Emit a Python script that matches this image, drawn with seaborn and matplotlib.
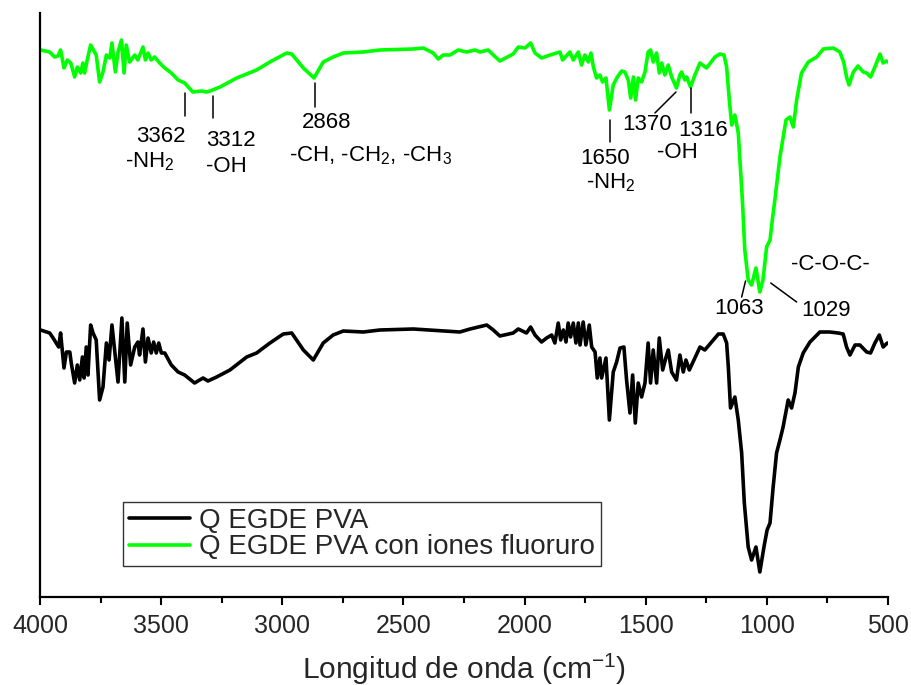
import matplotlib
matplotlib.use("Agg")
import matplotlib.pyplot as plt
from matplotlib.lines import Line2D
from matplotlib.ticker import MultipleLocator
import pandas as pd
import seaborn as sns

# FTIR spectra (wavenumber in cm-1, transmittance in arbitrary units, stacked)
wn_base = [3998, 3960, 3946, 3933, 3923, 3915, 3901, 3891, 3877, 3871, 3857, 3846, 3836, 3825,
           3818, 3809, 3802, 3791, 3781, 3768, 3754, 3740, 3726, 3715, 3703, 3678, 3662, 3650,
           3640, 3626, 3609, 3596, 3589, 3575, 3565, 3554, 3541, 3531, 3520, 3510, 3499, 3485,
           3458, 3430, 3403, 3362, 3327, 3307, 3271, 3216, 3147, 3106, 3051, 2996, 2961, 2913,
           2872, 2831, 2790, 2748, 2666, 2597, 2459, 2267, 2225, 2191, 2156, 2129, 2102, 2047,
           2026, 1992, 1975, 1957, 1930, 1909, 1888, 1875, 1861, 1851, 1840, 1829, 1820, 1810,
           1799, 1788, 1778, 1771, 1758, 1747, 1733, 1723, 1709, 1700, 1689, 1682, 1664, 1650,
           1634, 1620, 1606, 1590, 1579, 1565, 1554, 1543, 1531, 1517, 1503, 1490, 1480, 1469,
           1455, 1444, 1430, 1417, 1407, 1393, 1373, 1359, 1345, 1334, 1320, 1297, 1276, 1256,
           1221, 1200, 1180, 1166, 1159, 1150, 1132, 1118, 1104, 1093, 1077, 1063, 1045, 1029,
           1012, 999, 987, 974, 960, 946, 933, 912, 898, 884, 870, 850, 822, 781, 740, 706,
           685, 671, 657, 636, 616, 588, 572, 554, 536, 520, 503]
t_base = [270, 267, 262, 257, 253, 267, 232, 248, 248, 237, 217, 235, 220, 243,
          222, 253, 225, 275, 267, 260, 200, 213, 257, 240, 275, 218, 282, 218,
          277, 235, 253, 258, 245, 271, 238, 262, 247, 258, 247, 257, 247, 247,
          235, 228, 225, 217, 222, 219, 223, 230, 243, 247, 257, 266, 267, 250,
          240, 257, 265, 269, 268, 270, 271, 268, 271, 273, 275, 270, 264, 267,
          271, 267, 273, 265, 258, 262, 265, 257, 277, 260, 270, 258, 277, 263,
          277, 257, 277, 255, 278, 255, 275, 253, 248, 222, 242, 222, 242, 180,
          228, 238, 252, 253, 220, 187, 225, 177, 217, 203, 217, 257, 217, 250,
          217, 262, 230, 242, 250, 228, 220, 245, 228, 240, 230, 242, 253, 250,
          260, 266, 266, 257, 233, 192, 203, 180, 147, 97, 53, 40, 53, 28,
          53, 70, 77, 113, 147, 160, 173, 200, 192, 207, 233, 247, 258, 268, 268, 267,
          266, 253, 245, 255, 255, 248, 247, 257, 265, 253, 257]

wn_fluor = [3998, 3960, 3940, 3926, 3915, 3901, 3887, 3873, 3857, 3846, 3832, 3823, 3816, 3805,
            3791, 3768, 3754, 3740, 3726, 3712, 3703, 3689, 3678, 3664, 3653, 3644, 3630, 3609,
            3596, 3575, 3565, 3554, 3541, 3527, 3506, 3485, 3458, 3430, 3403, 3369, 3334, 3314,
            3298, 3257, 3188, 3106, 3051, 2982, 2961, 2913, 2869, 2831, 2790, 2748, 2666, 2597,
            2459, 2418, 2377, 2356, 2336, 2308, 2274, 2239, 2205, 2184, 2150, 2129, 2102, 2047,
            2026, 1998, 1975, 1957, 1930, 1895, 1854, 1843, 1813, 1799, 1778, 1765, 1751, 1737,
            1726, 1716, 1703, 1689, 1678, 1664, 1650, 1634, 1617, 1599, 1586, 1572, 1562, 1551,
            1542, 1531, 1517, 1503, 1490, 1480, 1469, 1455, 1444, 1434, 1421, 1407, 1393, 1373,
            1359, 1352, 1338, 1331, 1315, 1297, 1276, 1249, 1214, 1194, 1177, 1166, 1155, 1145,
            1132, 1118, 1101, 1091, 1077, 1063, 1045, 1029, 1016, 1001, 987, 976, 967, 946,
            921, 905, 891, 877, 857, 829, 794, 767, 726, 699, 683, 671, 661, 643, 624, 602,
            588, 572, 554, 533, 520, 508, 500]
t_fluor = [550, 548, 543, 544, 550, 532, 540, 537, 523, 533, 527, 537, 527, 540,
           555, 545, 518, 528, 545, 542, 557, 528, 548, 560, 527, 555, 538, 545,
           540, 553, 540, 547, 540, 543, 537, 532, 527, 520, 517, 508, 509, 508,
           509, 513, 522, 530, 538, 547, 546, 532, 522, 538, 543, 547, 548, 550,
           551, 552, 547, 541, 545, 545, 550, 548, 550, 548, 550, 545, 539, 546,
           553, 552, 557, 547, 542, 545, 548, 540, 548, 540, 548, 535, 545, 538,
           547, 533, 522, 525, 518, 522, 490, 515, 523, 529, 528, 520, 502, 523,
           500, 522, 518, 528, 548, 550, 538, 547, 527, 537, 525, 535, 523, 512,
           525, 528, 520, 523, 513, 525, 537, 532, 543, 546, 545, 533, 500, 475,
           485, 467, 400, 350, 320, 315, 332, 308, 320, 353, 360, 383, 400, 443,
           480, 483, 473, 500, 527, 538, 543, 551, 552, 548, 538, 523, 515, 528, 534, 528,
           527, 523, 533, 546, 537, 539, 538]

series_names = ["Q EGDE PVA", "Q EGDE PVA con iones fluoruro"]
series_colors = ["#000000", "#00ff00"]

x_major = [4000, 3500, 3000, 2500, 2000, 1500, 1000, 500]

# band labels: text, x, y
band_numbers = [("3362", 3501, 463), ("3312", 3212, 460), ("2868", 2816, 477),
                ("1650", 1668, 441), ("1370", 1495, 475), ("1316", 1264, 470),
                ("1063", 1115, 291), ("1029", 756, 290)]
band_groups = [("-NH$_\\mathregular{2}$", 3546, 438), ("-OH", 3232, 433),
               ("-CH, -CH$_\\mathregular{2}$, -CH$_\\mathregular{3}$", 2638, 444),
               ("-NH$_\\mathregular{2}$", 1644, 417), ("-OH", 1371, 448),
               ("-C-O-C-", 736, 335)]
# leader lines: (x0, y0, x1, y1)
leader_lines = [(3402, 507, 3402, 484), (3287, 504, 3287, 482), (2865, 517, 2865, 493),
                (1648, 480, 1648, 458), (1462, 487, 1375, 508), (1315, 512, 1315, 487),
                (1104, 303, 1088, 319), (984, 317, 877, 298)]

sns.set_style("ticks")
plt.rcParams["font.family"] = ["Liberation Sans", "DejaVu Sans"]
plt.rcParams["mathtext.fontset"] = "custom"
plt.rcParams["mathtext.rm"] = "Liberation Sans"
plt.rcParams["mathtext.it"] = "Liberation Sans:italic"

df = pd.concat([
    pd.DataFrame({"wn": wn_base, "T": t_base, "muestra": series_names[0]}),
    pd.DataFrame({"wn": wn_fluor, "T": t_fluor, "muestra": series_names[1]}),
], ignore_index=True)

fig = plt.figure(figsize=(9.11, 6.85), dpi=100)
ax = fig.add_axes([40 / 911, 88 / 685, 848 / 911, 584 / 685])

sns.lineplot(data=df, x="wn", y="T", hue="muestra", hue_order=series_names,
             palette=dict(zip(series_names, series_colors)), estimator=None,
             linewidth=2.6, legend=False, ax=ax)

ax.set_xlim(4000, 500)
ax.set_ylim(3, 587)
ax.set_xticks(x_major)
ax.xaxis.set_minor_locator(MultipleLocator(250))
ax.set_yticks([])
ax.set_ylabel("")
ax.set_xlabel("Longitud de onda (cm$^\\mathregular{-1}$)", fontsize=21.5, labelpad=10)
ax.tick_params(axis="x", which="major", direction="out", length=6, width=1.5,
               labelsize=18, pad=6, color="black")
ax.tick_params(axis="x", which="minor", direction="out", length=4, width=1.5, color="black")
for side in ("top", "right"):
    ax.spines[side].set_visible(False)
for side in ("left", "bottom"):
    ax.spines[side].set_linewidth(1.6)
    ax.spines[side].set_color("black")

for x0, y0, x1, y1 in leader_lines:
    ax.plot([x0, x1], [y0, y1], color="black", linewidth=1.1)
for txt, x, y in band_numbers + band_groups:
    ax.text(x, y, txt, ha="center", va="center", fontsize=16, color="black")

handles = [Line2D([], [], color=c, linewidth=2.6) for c in series_colors]
leg = ax.legend(handles, series_names, loc="lower left", bbox_to_anchor=(0.098, 0.053),
                borderaxespad=0, fontsize=20, frameon=True, fancybox=False,
                edgecolor="black", handlelength=2.2, handletextpad=0.35,
                labelspacing=0.02, borderpad=0.2)
leg.get_frame().set_linewidth(1.0)

fig.savefig("out.png", dpi=100, facecolor="white")
